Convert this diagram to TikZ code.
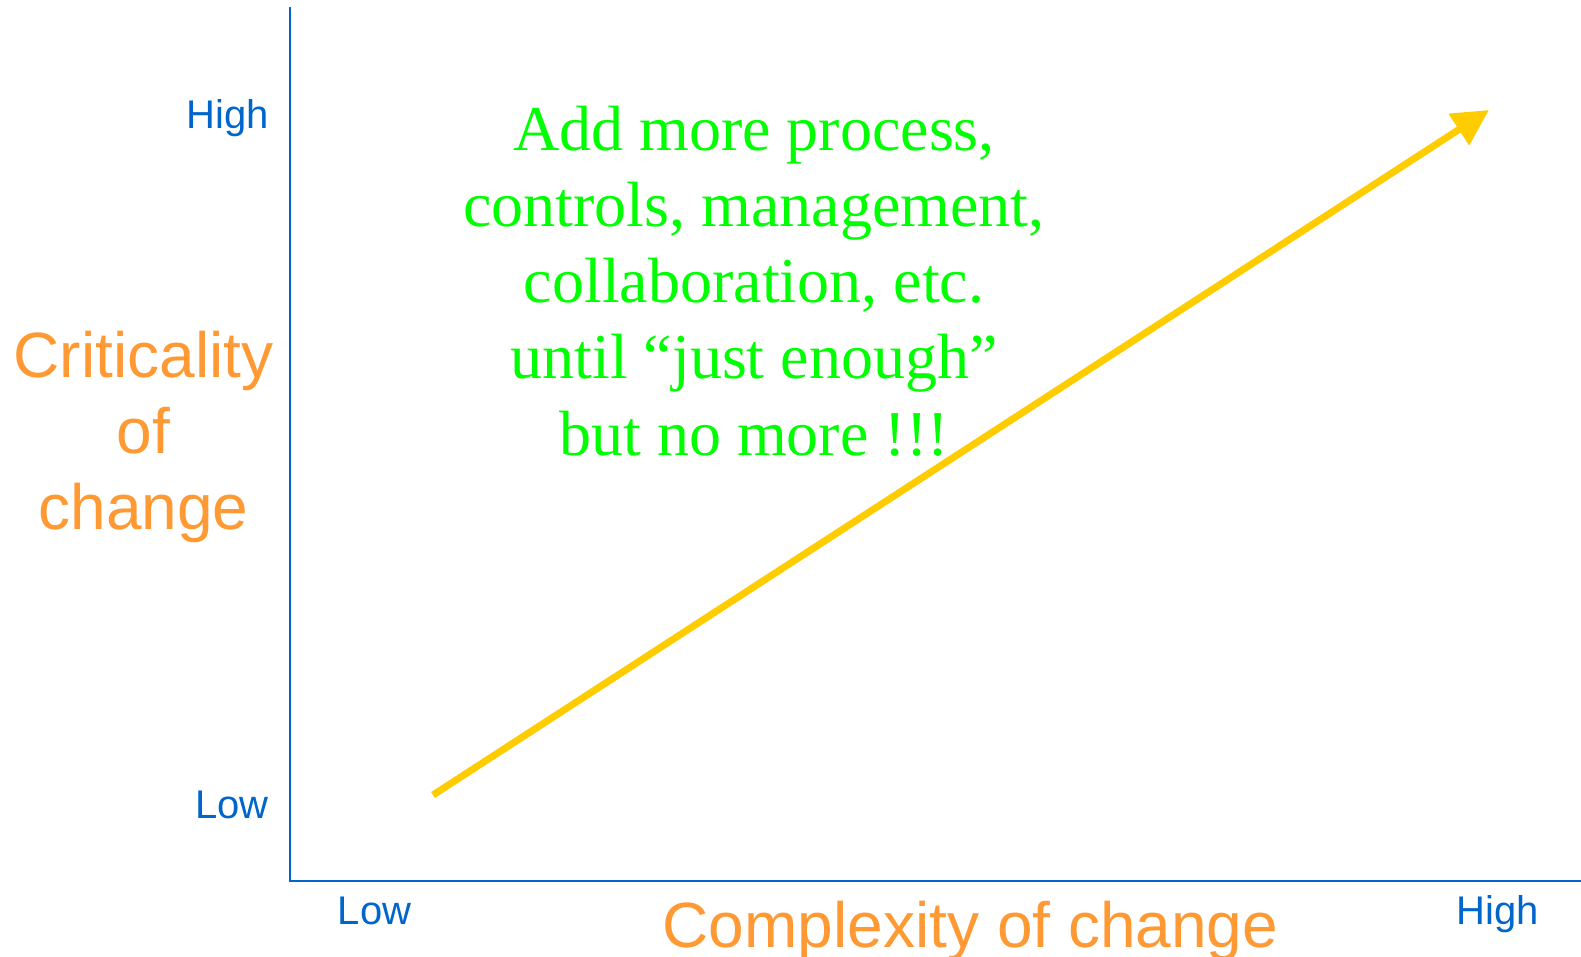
\documentclass[tikz,border=0pt]{standalone}
\usepackage{fontspec}
\setmainfont{Liberation Serif}
\newfontfamily\arialf{Liberation Sans}
\usetikzlibrary{arrows.meta}
\definecolor{axisblue}{HTML}{0066CC}
\definecolor{labelorange}{HTML}{FF9933}
\definecolor{notegreen}{HTML}{00FF00}
\definecolor{arrowyellow}{HTML}{FFCC00}
\tikzset{
  axisline/.style={draw=axisblue, line width=2.6pt},
  ticklabel/.style={text=axisblue, inner sep=0pt, font=\arialf\fontsize{40}{48}\selectfont},
  axistitle/.style={text=labelorange, inner sep=0pt, font=\arialf\fontsize{64}{76}\selectfont, align=center},
  notetext/.style={text=notegreen, inner sep=0pt, font=\fontsize{64}{76.25}\selectfont, align=center},
  trendarrow/.style={draw=arrowyellow, line width=7pt, -{Triangle[length=36pt,width=36pt]}}
}
\begin{document}
\begin{tikzpicture}[x=1pt,y=-1pt]
\useasboundingbox (0,0) rectangle (1581,957);
\coordinate (ytop) at (290,7);
\coordinate (origin) at (290,881);
\coordinate (xend) at (1581,881);
\draw[axisline] (ytop) -- (origin) -- (xend);

\node[ticklabel, anchor=base east] (yhigh) at (269,129) {High};
\node[ticklabel, anchor=base east] (ylow) at (269,818) {Low};
\node[ticklabel, anchor=base] (xlow) at (374.5,924) {Low};
\node[ticklabel, anchor=base] (xhigh) at (1497.5,924) {High};

\node[axistitle, anchor=base] (xtitle) at (970.5,947) {Complexity of change};
\node[axistitle, anchor=base] (ytitle) at (143.5,529) {Criticality\\of\\change};

\coordinate (astart) at (433,795);
\coordinate (atip) at (1489,110);
\draw[trendarrow] (astart) -- (atip);

\node[notetext, anchor=base] (note) at (754,455) {Add more process,\\controls, management,\\collaboration, etc.\\until “just enough”\\but no more !!!};
\end{tikzpicture}
\end{document}
